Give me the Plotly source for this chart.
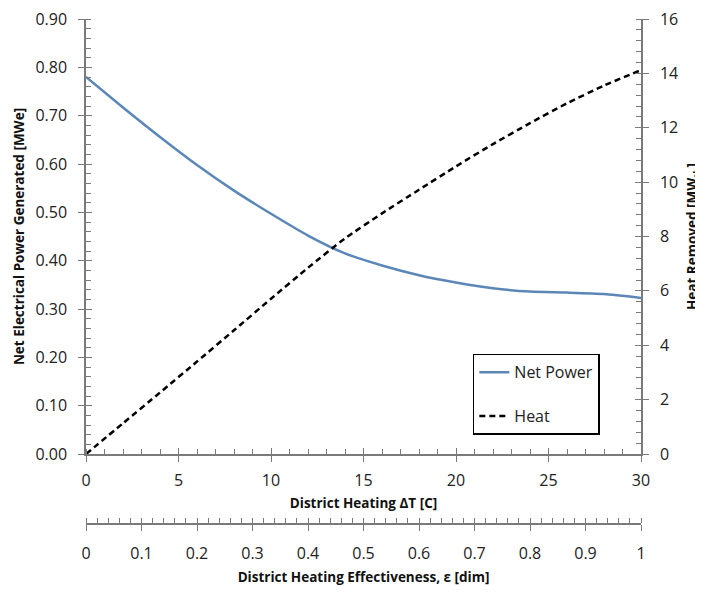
import plotly.graph_objects as go

dT = [0, 2, 4, 6, 8, 10, 12, 14, 16, 18, 20, 22, 24, 26, 28, 30]
net_power = [0.780, 0.717, 0.656, 0.598, 0.545, 0.497, 0.452, 0.415, 0.390, 0.370, 0.355, 0.343, 0.336, 0.334, 0.331, 0.323]
heat = [0.0, 1.13, 2.26, 3.40, 4.55, 5.71, 6.85, 7.93, 8.85, 9.72, 10.58, 11.40, 12.17, 12.90, 13.55, 14.12]

FONT = "Open Sans"
AX = "#7a7a7a"
TICKF = dict(family=FONT, size=16, color="#222")
TITLEF = dict(family=FONT, size=13.5, color="#111")

fig = go.Figure()
fig.add_trace(go.Scatter(x=dT, y=net_power, mode="lines", name="Net Power",
                         line=dict(color="#5b87b8", width=2.5, shape="spline", smoothing=0.6),
                         xaxis="x", yaxis="y", legendgroup="a"))
fig.add_trace(go.Scatter(x=dT, y=heat, mode="lines", name="Heat",
                         line=dict(color="black", width=2.5, dash="6px,4px", shape="spline", smoothing=0.6),
                         xaxis="x", yaxis="y2", legendgroup="b"))
# empty helper traces so the overlay axes are drawn
for xa, ya in [("x2", "y"), ("x3", "y3"), ("x4", "y4")]:
    fig.add_trace(go.Scatter(x=[], y=[], xaxis=xa, yaxis=ya, showlegend=False, hoverinfo="skip"))

ydom = [0.1386, 1]
common = dict(showgrid=False, zeroline=False, linecolor=AX, tickcolor=AX, tickwidth=1,
              automargin=False)

fig.update_layout(
    width=695, height=585,
    margin=dict(l=78, r=62, t=11, b=69),
    paper_bgcolor="white", plot_bgcolor="white",
    font=dict(family=FONT),
    xaxis=dict(domain=[0, 1], range=[0, 30], anchor="y", dtick=5, tick0=0,
               showline=True, linewidth=1.5, ticks="outside", ticklen=6,
               minor=dict(ticks="inside", ticklen=5, dtick=1, tickcolor=AX),
               tickfont=TICKF, ticklabelstandoff=5, ticklabeloverflow="allow",
               title=dict(text="<b>District Heating ΔT [C]</b>", font=TITLEF, standoff=9), **common),
    xaxis3=dict(overlaying="x", anchor="y", range=[0, 30], dtick=5, tick0=0,
                showline=False, ticks="inside", ticklen=6, showticklabels=False, **common),
    xaxis2=dict(overlaying="x", anchor="free", position=0, range=[0, 1], dtick=0.1, tick0=0,
                showline=True, linewidth=1.5, ticks="outside", ticklen=6,
                minor=dict(ticks="inside", ticklen=5, dtick=0.02, tickcolor=AX),
                tickfont=TICKF, ticklabelstandoff=9, ticklabeloverflow="allow",
                title=dict(text="<b>District Heating Effectiveness, ε [dim]</b>", font=TITLEF, standoff=9), **common),
    xaxis4=dict(overlaying="x", anchor="free", position=0, range=[0, 1], dtick=0.1, tick0=0,
                showline=False, ticks="inside", ticklen=6, showticklabels=False, **common),
    yaxis=dict(domain=ydom, range=[0, 0.9], dtick=0.1, tick0=0, tickformat=".2f", anchor="x",
               showline=True, linewidth=1.5, ticks="outside", ticklen=6,
               minor=dict(ticks="inside", ticklen=5, dtick=0.02, tickcolor=AX),
               tickfont=TICKF, ticklabelstandoff=8, ticklabeloverflow="allow",
               title=dict(text="<b>Net Electrical Power Generated [MWe]</b>", font=TITLEF, standoff=8), **common),
    yaxis3=dict(overlaying="y", anchor="x", side="left", range=[0, 0.9], dtick=0.1, tick0=0,
                showline=False, ticks="inside", ticklen=6, showticklabels=False, **common),
    yaxis2=dict(overlaying="y", anchor="x", side="right", range=[0, 16], dtick=2, tick0=0,
                showline=True, linewidth=1.5, ticks="outside", ticklen=6,
                minor=dict(ticks="inside", ticklen=5, dtick=0.4, tickcolor=AX),
                tickfont=TICKF, ticklabelstandoff=8, ticklabeloverflow="allow",
                title=dict(text="<b>Heat Removed [MW<sub>th</sub>]</b>", font=TITLEF, standoff=10), **common),
    yaxis4=dict(overlaying="y", anchor="x", side="right", range=[0, 16], dtick=2, tick0=0,
                showline=False, ticks="inside", ticklen=6, showticklabels=False, **common),
    legend=dict(x=0.697, y=0.337, xanchor="left", yanchor="top",
                bordercolor="black", borderwidth=1.5, bgcolor="white",
                font=dict(family=FONT, size=16, color="#222"),
                traceorder="grouped", tracegroupgap=20, itemwidth=30),
    showlegend=True,
)

fig.write_html("out.html")
